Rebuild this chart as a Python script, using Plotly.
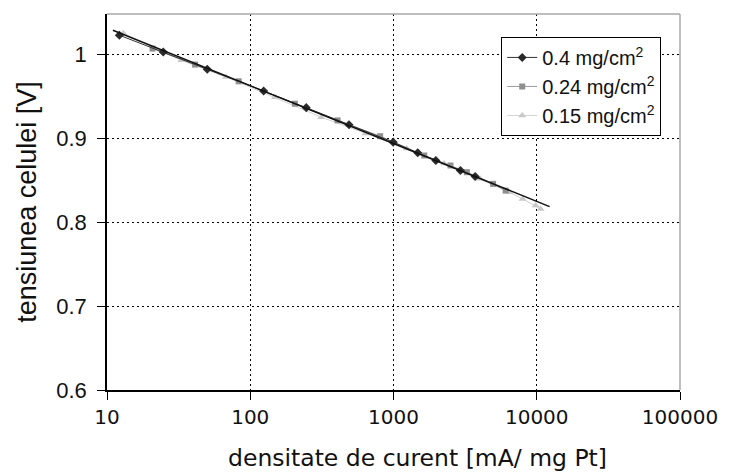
import plotly.graph_objects as go

# Current density [mA/mg Pt] and cell voltage [V] for three Pt loadings
x_04 = [12.2, 24.7, 50.1, 124, 246, 489, 995, 1476, 1975, 2931, 3715]
y_04 = [1.0227, 1.0027, 0.9821, 0.9562, 0.9364, 0.9161, 0.8953, 0.8826, 0.8734, 0.8615, 0.8543]

x_024 = [20.8, 41.2, 83, 205, 407, 807, 1641, 2500, 3250, 4955, 6063]
y_024 = [1.0068, 0.9877, 0.9678, 0.9411, 0.9212, 0.9024, 0.8794, 0.8675, 0.8595, 0.8456, 0.8376]

x_015 = [13, 33, 67.6, 149, 313, 637, 1236, 2254, 4018, 6457, 7962, 9825, 10634]
y_015 = [1.025, 0.9928, 0.9729, 0.9487, 0.9251, 0.9057, 0.8878, 0.8699, 0.8516, 0.8356, 0.8277, 0.8197, 0.8158]

# Tafel fit line
fit_x = [11, 12300]
fit_y = [1.0287, 0.8185]

series_names = ["0.4 mg/cm<sup>2</sup>", "0.24 mg/cm<sup>2</sup>", "0.15 mg/cm<sup>2</sup>"]

x_tickvals = [10, 100, 1000, 10000, 100000]
x_ticktext = ["10", "100", "1000", "10000", "100000"]
y_tickvals = [0.6, 0.7, 0.8, 0.9, 1.0]
y_ticktext = ["0.6", "0.7", "0.8", "0.9", "1"]

x_title = "densitate de curent [mA/ mg Pt]"
y_title = "tensiunea celulei [V]"

fig = go.Figure()

fig.add_trace(go.Scatter(
    x=x_015, y=y_015, name=series_names[2], mode="lines+markers",
    line=dict(color="#d2d2d2", width=1),
    marker=dict(symbol="triangle-up", size=7, color="#c8c8c8"),
))
fig.add_trace(go.Scatter(
    x=x_024, y=y_024, name=series_names[1], mode="lines+markers",
    line=dict(color="#9a9a9a", width=1),
    marker=dict(symbol="square", size=6, color="#8f8f8f"),
))
fig.add_trace(go.Scatter(
    x=x_04, y=y_04, name=series_names[0], mode="lines+markers",
    line=dict(color="#333333", width=1),
    marker=dict(symbol="diamond", size=7, color="#2a2a2a"),
))
fig.add_trace(go.Scatter(
    x=fit_x, y=fit_y, mode="lines", showlegend=False,
    line=dict(color="#111111", width=1.5),
))

sans = "Liberation Sans, Arial, sans-serif"
wide = "DejaVu Sans, Verdana, sans-serif"

fig.update_layout(
    width=730, height=474,
    margin=dict(l=107, r=40, t=14, b=84),
    paper_bgcolor="white", plot_bgcolor="white",
    showlegend=True,
    legend=dict(
        x=0.688, y=0.939, xanchor="left", yanchor="top",
        bordercolor="black", borderwidth=1, bgcolor="white",
        font=dict(family=sans, size=20, color="#111111"),
        traceorder="reversed", itemwidth=30, tracegroupgap=0,
    ),
    xaxis=dict(
        type="log", range=[1, 5],
        tickvals=x_tickvals, ticktext=x_ticktext,
        tickfont=dict(family=wide, size=20, color="#111111"),
        ticklabeloverflow="allow",
        showline=True, linecolor="black", linewidth=1.5,
        ticks="outside", ticklen=8, tickcolor="black",
        showgrid=True, gridcolor="black", gridwidth=1, griddash="2px,3px",
        zeroline=False,
    ),
    yaxis=dict(
        range=[0.6, 1.048],
        tickvals=y_tickvals, ticktext=y_ticktext,
        tickfont=dict(family=sans, size=22, color="#111111"),
        ticklabelstandoff=6,
        showline=True, linecolor="black", linewidth=1.5,
        ticks="outside", ticklen=8, tickcolor="black",
        showgrid=True, gridcolor="black", gridwidth=1, griddash="2px,3px",
        zeroline=False,
        title=dict(text=y_title,
                   font=dict(family=sans, size=27, color="#111111"),
                   standoff=12),
    ),
    annotations=[
        dict(text=x_title, xref="paper", yref="paper", x=0.542, y=-0.181,
             xanchor="center", yanchor="middle", showarrow=False,
             font=dict(family=wide, size=23.5, color="#111111")),
    ],
    shapes=[
        dict(type="line", xref="paper", yref="paper", x0=0, x1=1, y0=1, y1=1,
             line=dict(color="#a8a8a8", width=1.5)),
        dict(type="line", xref="paper", yref="paper", x0=1, x1=1, y0=0, y1=1,
             line=dict(color="#a8a8a8", width=1.5)),
    ],
)

fig.write_html("out.html")
